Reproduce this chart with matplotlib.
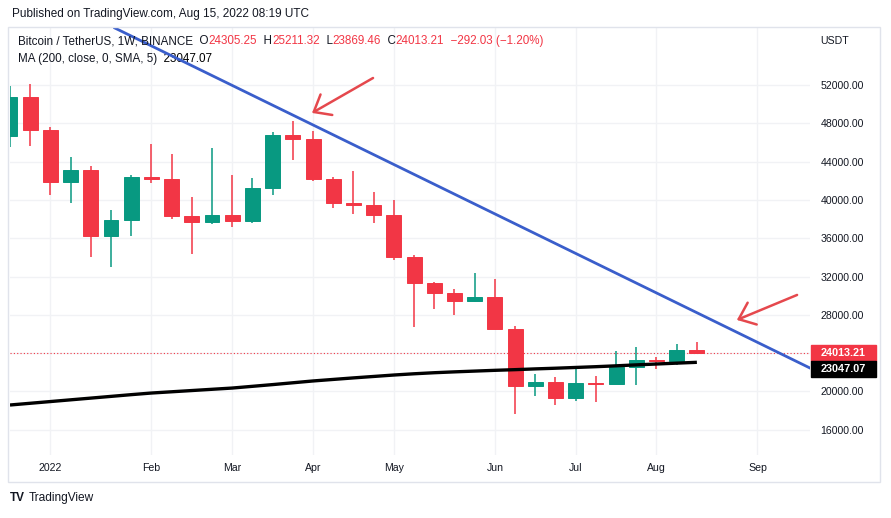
import numpy as np
import matplotlib.pyplot as plt
from matplotlib.patches import Rectangle

# weekly BINANCE BTCUSDT candles (week start dates)
weeks = ['2021-12-20', '2021-12-27', '2022-01-03', '2022-01-10', '2022-01-17', '2022-01-24',
         '2022-01-31', '2022-02-07', '2022-02-14', '2022-02-21', '2022-02-28', '2022-03-07',
         '2022-03-14', '2022-03-21', '2022-03-28', '2022-04-04', '2022-04-11', '2022-04-18',
         '2022-04-25', '2022-05-02', '2022-05-09', '2022-05-16', '2022-05-23', '2022-05-30',
         '2022-06-06', '2022-06-13', '2022-06-20', '2022-06-27', '2022-07-04', '2022-07-11',
         '2022-07-18', '2022-07-25', '2022-08-01', '2022-08-08', '2022-08-15']
opens = [46680, 50780, 47300, 41860, 43080, 36280, 37880, 42410, 42200, 38350, 37700, 38420,
         37780, 41260, 46830, 46400, 42150, 39700, 39450, 38470, 34060, 31330, 30290, 29440,
         29900, 26570, 20550, 21030, 19300, 20850, 20790, 22580, 23300, 23175, 24305.25]
highs = [51870, 52090, 47570, 44500, 43500, 38920, 42650, 45850, 44750, 40300, 45400, 42600,
         42340, 47100, 48250, 47200, 42400, 42980, 40800, 40000, 34250, 31450, 30680, 32400,
         31700, 26880, 21870, 21550, 22500, 21600, 24280, 24670, 23650, 24980, 25211.32]
lows = [45560, 45680, 40500, 39650, 34000, 32950, 36250, 41760, 38000, 34320, 37450, 37150,
        37550, 40470, 44200, 42000, 39200, 38540, 37580, 33700, 26700, 28630, 28020, 29300,
        26560, 17620, 19560, 18630, 19000, 18900, 20750, 20700, 22400, 22800, 23869.46]
closes = [50780, 47300, 41860, 43080, 36280, 37880, 42410, 42200, 38350, 37700, 38420, 37780,
          41260, 46830, 46400, 42150, 39700, 39450, 38470, 34060, 31330, 30290, 29440, 29900,
          26570, 20550, 21030, 19300, 20850, 20790, 22580, 23300, 23175, 24305.25, 24013.21]
sma200 = [18590, 18770, 18950, 19130, 19310, 19490, 19670, 19840, 19970, 20100, 20230, 20360,
          20540, 20720, 20910, 21100, 21260, 21420, 21570, 21720, 21850, 21960, 22050, 22130,
          22210, 22280, 22360, 22430, 22510, 22590, 22680, 22780, 22870, 22960, 23047.07]
last_change = -292.03
last_change_pct = -1.20

month_labels = ['2022', 'Feb', 'Mar', 'Apr', 'May', 'Jun', 'Jul', 'Aug', 'Sep']
month_starts = ['2022-01-03', '2022-02-07', '2022-03-07', '2022-04-04', '2022-05-02',
                '2022-06-06', '2022-07-04', '2022-08-01', '2022-09-05']

price_ticks = [16000, 20000, 24000, 28000, 32000, 36000, 40000, 44000, 48000, 52000]

# user drawings (week index, price)
trend_pts = [(14, 48860), (39.6, 22450)]
arrows = [((17.97, 52730), (14.95, 49080)), ((38.96, 30080), (35.98, 27470))]

GREEN = '#089981'
RED = '#f23645'
TXT = '#131722'
GRID = '#f1f2f5'

plt.rcParams['font.family'] = ['Liberation Sans', 'DejaVu Sans']

W, H = 891, 518
fig = plt.figure(figsize=(W / 100, H / 100), dpi=100)
fig.patch.set_facecolor('white')


def fx(px):
    return px / W


def fy(py):
    return 1 - py / H


ax = fig.add_axes([fx(10), fy(455), fx(810) - fx(10), fy(28) - fy(455)])
x = np.arange(len(weeks))
o = np.array(opens)
c = np.array(closes)
cols = [GREEN if cc >= oo else RED for oo, cc in zip(o, c)]

ax.vlines(x, lows, highs, colors=cols, linewidth=1.1, zorder=3)
ax.bar(x, np.abs(c - o), bottom=np.minimum(o, c), width=0.74, color=cols,
       edgecolor=cols, linewidth=0.7, zorder=4)

ax.plot(x, sma200, color='black', linewidth=2.4, zorder=5, solid_capstyle='butt')
ax.axhline(closes[-1], color=RED, linestyle=(0, (1, 2)), linewidth=0.8, zorder=2)

ax.axline(trend_pts[0], trend_pts[1], color='#3a5ecb', linewidth=2.0, zorder=6)
for tail, head in arrows:
    ax.annotate('', xy=head, xytext=tail,
                arrowprops=dict(arrowstyle='->, head_length=1.05, head_width=0.85',
                                color='#e5484d', lw=1.8, shrinkA=0, shrinkB=0),
                zorder=7)

ax.set_xlim(0, 39.6)
ax.set_ylim(13370, 57950)

tick_x = [weeks.index(m) if m in weeks else 37 for m in month_starts]
ax.set_xticks(tick_x)
ax.set_xticklabels(month_labels)
ax.set_yticks(price_ticks)
ax.set_yticklabels(['' if p == 24000 else '%.2f' % p for p in price_ticks])
ax.yaxis.tick_right()
ax.tick_params(axis='both', length=0, labelsize=7.6, colors=TXT)
ax.tick_params(axis='y', pad=7.5)
ax.tick_params(axis='x', pad=6)
ax.grid(True, color=GRID, linewidth=1, zorder=0)
ax.set_axisbelow(True)
for s in ax.spines.values():
    s.set_visible(False)

# chart frame
fig.patches.append(Rectangle((fx(8), fy(482)), fx(872), (482 - 27) / H, transform=fig.transFigure,
                             fill=False, edgecolor='#e0e3eb', linewidth=1))

fig.text(fx(820), fy(41), 'USDT', fontsize=7.6, color=TXT, va='center')

# last price / MA labels on the price scale
y_last = ax.transData.transform((0, closes[-1]))[1]
fig.patches.append(Rectangle((fx(811), (y_last - 8) / H), fx(65), 16 / H,
                             transform=fig.transFigure, color=RED))
fig.text(fx(843.5), y_last / H, '%.2f' % closes[-1], color='white', fontsize=7.8,
         weight='bold', ha='center', va='center')
fig.patches.append(Rectangle((fx(811), (y_last - 24) / H), fx(65), 16 / H,
                             transform=fig.transFigure, color='black'))
fig.text(fx(843.5), (y_last - 16) / H, '%.2f' % sma200[-1], color='white', fontsize=7.8,
         weight='bold', ha='center', va='center')


def chain(pieces, x0, y0, size):
    t = fig.text(fx(x0), fy(y0), pieces[0][0], color=pieces[0][1], fontsize=size,
                 va='center', ha='left')
    for s, col in pieces[1:]:
        t = ax.annotate(s, xy=(1, 0.5), xycoords=t, va='center', ha='left', color=col,
                        fontsize=size, annotation_clip=False)
    return t


legend1 = [('Bitcoin / TetherUS, 1W, BINANCE', TXT),
           ('  O', TXT), ('%.2f' % opens[-1], RED),
           ('  H', TXT), ('%.2f' % highs[-1], RED),
           ('  L', TXT), ('%.2f' % lows[-1], RED),
           ('  C', TXT), ('%.2f' % closes[-1], RED),
           ('  \u2212%.2f (\u2212%.2f%%)' % (-last_change, -last_change_pct), RED)]
chain(legend1, 18, 41, 8.4)
chain([('MA (200, close, 0, SMA, 5)', TXT), ('  %.2f' % sma200[-1], 'black')], 18, 59, 8.4)

fig.text(fx(12), fy(14), 'Published on TradingView.com, Aug 15, 2022 08:19 UTC',
         fontsize=8.5, color=TXT, va='center')
fig.text(fx(10), fy(498), 'TV', fontsize=8.5, weight='bold', color=TXT, va='center')
fig.text(fx(29), fy(498), 'TradingView', fontsize=8.6, color=TXT, va='center')

fig.savefig('out.png', dpi=100)
